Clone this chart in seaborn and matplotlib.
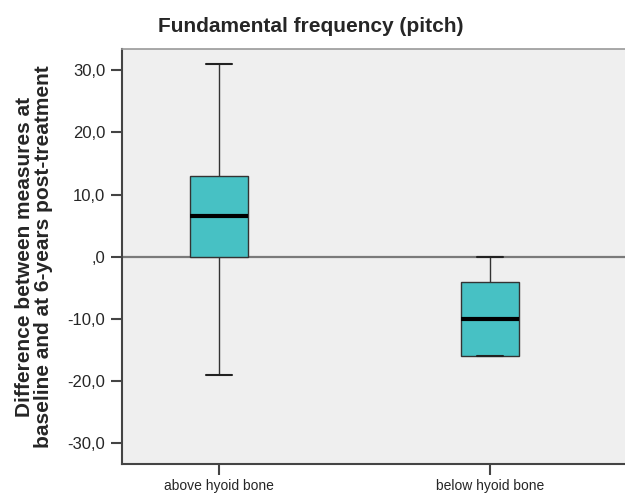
import matplotlib
matplotlib.use("Agg")
import matplotlib.pyplot as plt
import seaborn as sns
import pandas as pd

# values (chosen so the box stats match: Q1, median, Q3, whiskers)
groups = ["above hyoid bone", "below hyoid bone"]
above_vals = [-19, 0, 0, 6.5, 13, 13, 31]
below_vals = [-16, -16, -16, -10, -4, -4, 0]
yticks = [30, 20, 10, 0, -10, -20, -30]
ytick_labels = ["30,0", "20,0", "10,0", ",0", "-10,0", "-20,0", "-30,0"]

df = pd.DataFrame({
    "group": [groups[0]] * len(above_vals) + [groups[1]] * len(below_vals),
    "diff": above_vals + below_vals,
})

sns.set_style("white")
plt.rcParams["font.family"] = ["Liberation Sans", "DejaVu Sans"]

fig = plt.figure(figsize=(6.25, 4.97), dpi=100)
ax = fig.add_axes([0.195, 0.066, 0.805, 0.835])
ax.set_facecolor("#efefef")

ax.axhline(0, color="#7a7a7a", lw=1.6, zorder=1)

sns.boxplot(data=df, x="group", y="diff", order=groups, width=0.215,
            color="#47c1c4", saturation=1, whis=1.5, ax=ax,
            capwidths=0.095,
            boxprops=dict(edgecolor="#333333", linewidth=1.0),
            whiskerprops=dict(color="#333333", linewidth=1.0),
            capprops=dict(color="#222222", linewidth=1.5),
            medianprops=dict(color="black", linewidth=3, zorder=5),
            showfliers=False)

ax.set_xlim(-0.36, 1.5)
ax.set_ylim(-33.4, 33.4)
ax.set_yticks(yticks)
ax.set_yticklabels(ytick_labels, fontsize=12)
ax.tick_params(axis="x", labelsize=10, bottom=True, length=8, width=1.5,
               color="#444444", pad=3)
ax.tick_params(axis="y", left=True, length=8, width=1.5, color="#444444", pad=4)
ax.set_xlabel("")
ax.set_ylabel("Difference between measures at\nbaseline and at 6-years post-treatment",
              fontsize=15, fontweight="bold", labelpad=10, linespacing=1.0)
fig.text(0.498, 0.946, "Fundamental frequency (pitch)", fontsize=15,
         fontweight="bold", ha="center", va="center")

for side in ["left", "bottom"]:
    ax.spines[side].set_color("#444444")
    ax.spines[side].set_linewidth(1.5)
ax.spines["top"].set_color("#999999")
ax.spines["top"].set_linewidth(1.2)
ax.spines["right"].set_visible(False)

fig.savefig("out.png", dpi=100, facecolor="white")
